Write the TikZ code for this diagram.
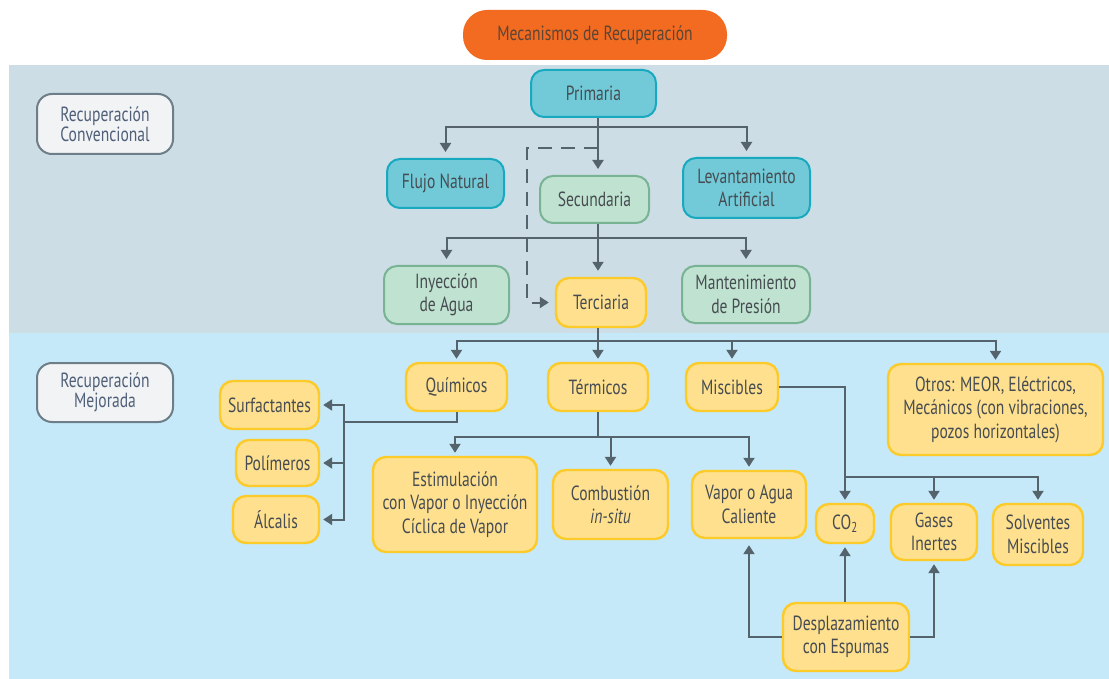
\documentclass[tikz,border=0pt]{standalone}
\usepackage{fontspec}
\setmainfont{PT Sans}[FakeStretch=0.76]
\usetikzlibrary{arrows.meta,calc}
\definecolor{bandgray}{HTML}{CCDDE6}
\definecolor{bandblue}{HTML}{C5E9F8}
\definecolor{orangef}{HTML}{F26B21}
\definecolor{titletxt}{HTML}{5C4535}
\definecolor{tealf}{HTML}{72CAD8}
\definecolor{teald}{HTML}{18A9BF}
\definecolor{greenf}{HTML}{C0E3D1}
\definecolor{greend}{HTML}{78B393}
\definecolor{yelf}{HTML}{FEE08F}
\definecolor{yeld}{HTML}{FCCB2A}
\definecolor{labf}{HTML}{F1F3F5}
\definecolor{labd}{HTML}{6E7E88}
\definecolor{labt}{HTML}{4F5F78}
\definecolor{txt}{HTML}{464C51}
\definecolor{linec}{HTML}{55636D}
\begin{document}
\begin{tikzpicture}[x=1pt,y=-1pt,
  box/.style={draw, rounded corners=13pt, line width=2pt, align=center, inner sep=1pt, text=txt,
    font=\fontsize{20.5}{23.5}\selectfont},
  tealbox/.style={box, fill=tealf, draw=teald},
  greenbox/.style={box, fill=greenf, draw=greend},
  yelbox/.style={box, fill=yelf, draw=yeld, line width=2.4pt},
  labbox/.style={box, fill=labf, draw=labd, text=labt, rounded corners=15pt},
  conn/.style={draw=linec, line width=2pt},
  arr/.style={conn, -{Triangle[width=11pt,length=9pt]}, shorten >=6pt},
  arrs/.style={arr, shorten >=3pt},
  dashline/.style={arr, dash pattern=on 14pt off 9pt},
]
\useasboundingbox (0,0) rectangle (1109,679);
\fill[white] (0,0) rectangle (1109,679);
\fill[bandgray] (9,65) rectangle (1109,333);
\fill[bandblue] (9,333) rectangle (1109,679);

% title and side labels
\node[box, fill=orangef, draw=none, rounded corners=24pt, text=titletxt, minimum width=264pt, minimum height=50pt] (title) at (595,35) {Mecanismos de Recuperación};
\node[labbox, minimum width=136pt, minimum height=60pt] (conv) at (105,124) {Recuperación\\[-4pt]Convencional};
\node[labbox, minimum width=136pt, minimum height=59pt] (mej) at (105,392.5) {Recuperación\\[-4pt]Mejorada};

% conventional
\node[tealbox, minimum width=125pt, minimum height=47pt] (prim) at (593.5,93.5) {Primaria};
\node[tealbox, minimum width=117pt, minimum height=49pt] (flujo) at (445.5,183.5) {Flujo Natural};
\node[greenbox, minimum width=109pt, minimum height=47pt] (sec) at (594.5,199.5) {Secundaria};
\node[tealbox, minimum width=127pt, minimum height=60pt] (lev) at (746.5,188) {Levantamiento\\Artificial};
\node[greenbox, minimum width=125pt, minimum height=58pt] (iny) at (446.5,295) {Inyección\\de Agua};
\node[yelbox, minimum width=90pt, minimum height=49pt] (terc) at (601,302.5) {Terciaria};
\node[greenbox, minimum width=128pt, minimum height=57pt] (mant) at (746,294.5) {Mantenimiento\\de Presión};

% enhanced
\node[yelbox, minimum width=101pt, minimum height=48pt] (quim) at (456.5,387) {Químicos};
\node[yelbox, minimum width=100pt, minimum height=48pt] (term) at (598,387) {Térmicos};
\node[yelbox, minimum width=92pt, minimum height=48pt] (misc) at (732,387) {Miscibles};
\node[yelbox, minimum width=215pt, minimum height=91pt] (otros) at (995.5,409.5) {Otros: MEOR, Eléctricos,\\Mecánicos (con vibraciones,\\pozos horizontales)};
\node[yelbox, minimum width=99pt, minimum height=48pt] (surf) at (269.5,405) {Surfactantes};
\node[yelbox, minimum width=83pt, minimum height=46pt] (pol) at (277.5,463) {Polímeros};
\node[yelbox, minimum width=86pt, minimum height=47pt] (alc) at (276,519.5) {Álcalis};
\node[yelbox, minimum width=164pt, minimum height=95pt] (estim) at (455,504.5) {Estimulación\\con Vapor o Inyección\\Cíclica de Vapor};
\node[yelbox, minimum width=115pt, minimum height=69pt] (comb) at (610.5,504.5) {Combustión\\\textit{in-situ}};
\node[yelbox, minimum width=114pt, minimum height=67pt] (vapor) at (749,504.5) {Vapor o Agua\\Caliente};
\node[yelbox, minimum width=58pt, minimum height=39pt] (co2) at (845,523.5) {CO\textsubscript{2}};
\node[yelbox, minimum width=86pt, minimum height=56pt] (gases) at (934,532) {Gases\\Inertes};
\node[yelbox, minimum width=90pt, minimum height=61pt] (solv) at (1038,534.5) {Solventes\\Miscibles};
\node[yelbox, minimum width=126pt, minimum height=68pt] (desp) at (846,637) {Desplazamiento\\con Espumas};

% junctions
\coordinate (b1) at (598,127);
\coordinate (d0) at (598,148);
\coordinate (d1) at (527,148);
\coordinate (b2) at (598,238);
\coordinate (b3) at (598,341);
\coordinate (q1) at (344,422);
\coordinate (t1) at (598,437);
\coordinate (m1) at (845,477);

% primary level
\draw[conn] (prim.south -| b1) -- (b1);
\draw[arr] (b1) -| (flujo.north);
\draw[arr] (b1) -| (lev.north);
\draw[arr] (b1) -- (sec.north -| b1);
\draw[dashline] (d0) -- (d1) |- (terc.west);

% secondary level
\draw[conn] (sec.south -| b2) -- (b2);
\draw[arr] (b2) -| (iny.north);
\draw[arr] (b2) -| (mant.north);
\draw[arr] (b2) -- (terc.north -| b2);

% tertiary level
\draw[conn] (terc.south -| b3) -- (b3);
\draw[arrs] (b3) -| (quim.north);
\draw[arrs] (b3) -- (term.north -| b3);
\draw[arrs] (b3) -| (misc.north);
\draw[arrs] (b3) -| (otros.north);

% chemicals
\draw[conn] (quim.south) |- (q1);
\draw[arrs] (q1) |- (surf.east);
\draw[arrs] (q1) |- (pol.east);
\draw[arrs] (q1) |- (alc.east);

% thermal
\draw[conn] (term.south -| t1) -- (t1);
\draw[arrs] (t1) -| (estim.north);
\draw[arrs] (t1) -| (comb.north);
\draw[arrs] (t1) -| (vapor.north);

% miscible
\draw[arrs] (misc.east) -| (co2.north);
\draw[arrs] (m1) -| (gases.north);
\draw[arrs] (m1) -| (solv.north);

% foams
\draw[arr] (desp.west) -| (vapor.south);
\draw[arrs] (desp.north -| co2.south) -- (co2.south);
\draw[arrs] (desp.east) -| (gases.south);
\end{tikzpicture}
\end{document}
